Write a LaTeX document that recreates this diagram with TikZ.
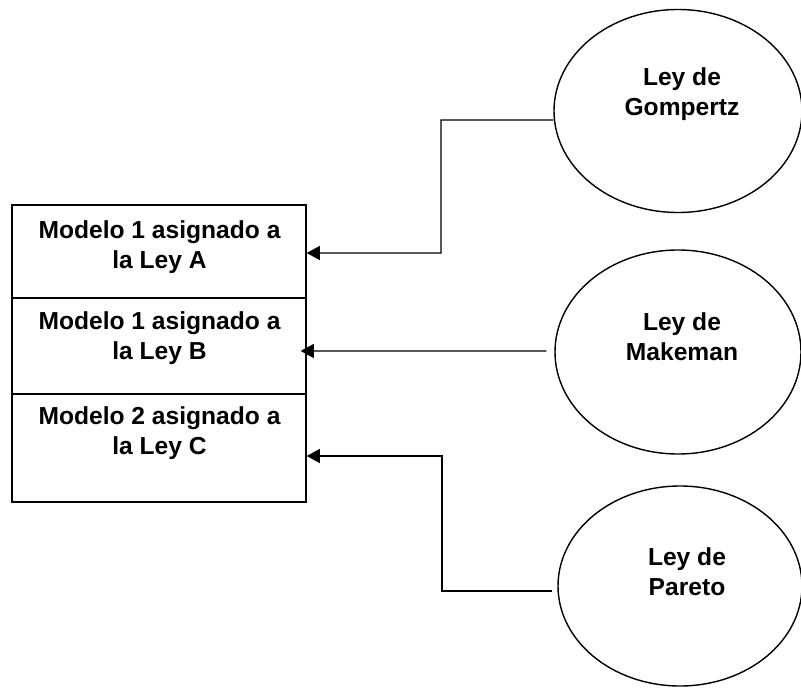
\documentclass[tikz,border=0pt]{standalone}
\usepackage{fontspec}
\setmainfont{Liberation Sans}
\usetikzlibrary{arrows.meta,calc,shapes.geometric}

\begin{document}
\begin{tikzpicture}[>={Triangle[length=7.5pt,width=8pt]},line join=miter,
  font=\fontsize{14}{17}\selectfont\bfseries,
  cell/.style={draw,line width=.8pt,minimum width=5.88cm,inner sep=0pt},
  law/.style={ellipse,draw,line width=.8pt,inner sep=0pt},
  lbl/.style={align=center,inner sep=0pt},
  link/.style={line width=.8pt}]
\path[use as bounding box] (0,0) rectangle (16.02,13.76);
\clip (0,0) rectangle (16.02,13.76);

% los tres modelos
\node[cell,minimum height=1.86cm] (ma) at (3.18,8.73) {};
\node[cell,minimum height=1.92cm] (mb) at (3.18,6.84) {};
\node[cell,minimum height=2.16cm] (mc) at (3.18,4.80) {};
\node[lbl] (ta) at (3.19,8.82) {Modelo 1 asignado a\\la Ley A};
\node[lbl] (tb) at (3.19,7.00) {Modelo 1 asignado a\\la Ley B};
\node[lbl] (tc) at (3.19,5.10) {Modelo 2 asignado a\\la Ley C};

% las leyes
\node[law,minimum width=4.96cm,minimum height=4.06cm] (gomp) at (13.56,11.54) {};
\node[law,minimum width=4.92cm,minimum height=4.08cm] (make) at (13.56,6.72) {};
\node[law,minimum width=4.88cm,minimum height=4.00cm] (pare) at (13.60,2.04) {};
\node[lbl] (tg) at (13.64,11.88) {Ley de\\Gompertz};
\node[lbl] (tm) at (13.64,7.03) {Ley de\\Makeman};
\node[lbl] (tp) at (13.74,2.33) {Ley de\\Pareto};

% conexiones
\coordinate (ga) at ($(gomp.west)+(0,-0.18)$);
\draw[link,->] (ga) -- (8.82,11.36) |- ($(ma.east)+(0,-0.03)$);
\draw[link,->] ($(make.west)+(-0.16,0.02)$) -- ($(mb.east)+(-0.12,-0.10)$);
\draw[link,->] ($(pare.west)+(-0.10,-0.10)$) -| (8.84,4.64) -- ($(mc.east)+(0,-0.16)$);
\end{tikzpicture}
\end{document}
